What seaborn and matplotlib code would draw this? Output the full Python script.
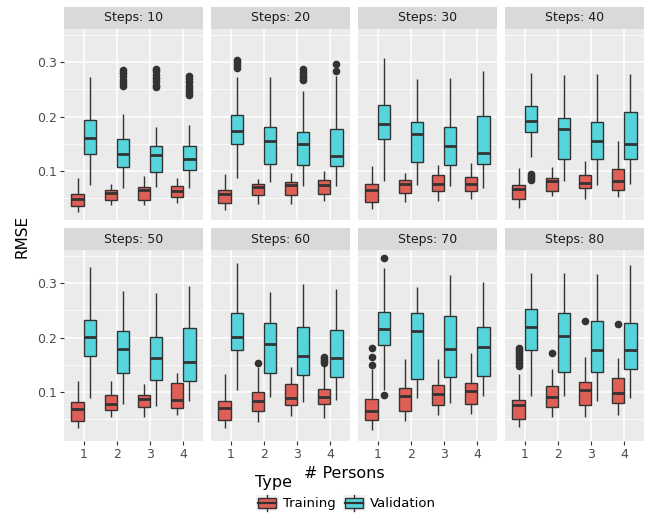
import pandas as pd
import seaborn as sns
import matplotlib.pyplot as plt
from matplotlib.lines import Line2D
from matplotlib.patches import Rectangle, Patch
from matplotlib.legend_handler import HandlerBase

STEPS = [10, 20, 30, 40, 50, 60, 70, 80]
PERSONS = ["1", "2", "3", "4"]
TYPES = ["Training", "Validation"]
COLORS = {"Training": "#DF5F57", "Validation": "#55D5DB"}

# Box statistics: one row per facet (Steps), one value per # Persons
train_lo = [[0.024, 0.037, 0.037, 0.0415], [0.028, 0.040, 0.0385, 0.0446],
            [0.0305, 0.0434, 0.044, 0.049], [0.032, 0.054, 0.049, 0.0526],
            [0.034, 0.055, 0.055, 0.058], [0.034, 0.045, 0.0563, 0.0526],
            [0.031, 0.0465, 0.0575, 0.0588], [0.0366, 0.0538, 0.0538, 0.058]]
train_q1 = [[0.035, 0.047, 0.047, 0.0515], [0.0415, 0.0557, 0.0557, 0.057],
            [0.0428, 0.060, 0.063, 0.0625], [0.0477, 0.063, 0.068, 0.066],
            [0.047, 0.0674, 0.0717, 0.070], [0.048, 0.066, 0.0766, 0.0772],
            [0.0477, 0.065, 0.0754, 0.0785], [0.0508, 0.073, 0.0766, 0.079]]
train_med = [[0.049, 0.060, 0.0655, 0.0625], [0.057, 0.071, 0.074, 0.075],
             [0.066, 0.076, 0.076, 0.076], [0.0674, 0.081, 0.078, 0.082],
             [0.0686, 0.078, 0.0865, 0.085], [0.071, 0.0834, 0.0895, 0.0908],
             [0.066, 0.092, 0.097, 0.101], [0.076, 0.0908, 0.1037, 0.099]]
train_q3 = [[0.0575, 0.065, 0.070, 0.072], [0.065, 0.0766, 0.080, 0.084],
            [0.0766, 0.0828, 0.0932, 0.0883], [0.074, 0.087, 0.093, 0.103],
            [0.082, 0.095, 0.095, 0.1166], [0.0834, 0.0994, 0.1154, 0.106],
            [0.087, 0.1074, 0.1135, 0.1166], [0.0846, 0.111, 0.1185, 0.1265]]
train_hi = [[0.088, 0.077, 0.091, 0.088], [0.0945, 0.086, 0.097, 0.1006],
            [0.109, 0.0957, 0.1117, 0.114], [0.105, 0.108, 0.118, 0.156],
            [0.1197, 0.1197, 0.1154, 0.135], [0.1326, 0.146, 0.1455, 0.147],
            [0.142, 0.161, 0.160, 0.172], [0.134, 0.1425, 0.1646, 0.1628]]
train_out = [[[], [], [], []], [[], [], [], []], [[], [], [], []], [[], [], [], []],
             [[], [], [], []],
             [[], [0.1535], [], [0.153, 0.157, 0.161, 0.165]],
             [[0.150, 0.164, 0.181], [], [], []],
             [[0.148, 0.153, 0.158, 0.163, 0.168, 0.173, 0.178, 0.181], [0.172], [0.231], [0.2243]]]

val_lo = [[0.075, 0.068, 0.070, 0.069], [0.0875, 0.0797, 0.0723, 0.0723],
          [0.081, 0.0748, 0.073, 0.069], [0.1265, 0.0815, 0.074, 0.077],
          [0.0895, 0.0772, 0.0735, 0.0834], [0.103, 0.0908, 0.0815, 0.0852],
          [0.103, 0.089, 0.080, 0.092], [0.0926, 0.0932, 0.084, 0.0883]]
val_q1 = [[0.131, 0.107, 0.098, 0.101], [0.149, 0.113, 0.1117, 0.1086],
          [0.158, 0.116, 0.111, 0.1135], [0.1714, 0.1215, 0.123, 0.1215],
          [0.1658, 0.1357, 0.1215, 0.121], [0.178, 0.135, 0.1308, 0.128],
          [0.1868, 0.1246, 0.127, 0.130], [0.178, 0.137, 0.1375, 0.142]]
val_med = [[0.160, 0.132, 0.129, 0.123], [0.173, 0.155, 0.149, 0.127],
           [0.186, 0.1677, 0.1455, 0.1332], [0.1923, 0.178, 0.156, 0.150],
           [0.202, 0.1788, 0.1634, 0.156], [0.201, 0.1874, 0.1658, 0.1634],
           [0.2163, 0.2126, 0.179, 0.182], [0.2194, 0.2028, 0.178, 0.178]]
val_q3 = [[0.194, 0.159, 0.146, 0.1455], [0.203, 0.1806, 0.1726, 0.177],
          [0.221, 0.1898, 0.1818, 0.2003], [0.2188, 0.198, 0.1905, 0.209],
          [0.2323, 0.2126, 0.2015, 0.217], [0.2446, 0.2268, 0.2188, 0.2138],
          [0.247, 0.2458, 0.239, 0.2188], [0.2532, 0.2446, 0.231, 0.2274]]
val_hi = [[0.272, 0.205, 0.181, 0.184], [0.2735, 0.2735, 0.2465, 0.2754],
          [0.308, 0.2686, 0.271, 0.2846], [0.2797, 0.276, 0.278, 0.278],
          [0.3295, 0.2858, 0.2815, 0.295], [0.3375, 0.2846, 0.298, 0.289],
          [0.3277, 0.2926, 0.3154, 0.302], [0.3185, 0.3185, 0.3166, 0.3338]]
val_out = [[[], [0.256, 0.262, 0.268, 0.274, 0.280, 0.286],
            [0.254, 0.259, 0.265, 0.271, 0.277, 0.283, 0.287],
            [0.239, 0.245, 0.251, 0.257, 0.263, 0.269, 0.274]],
           [[0.290, 0.295, 0.300, 0.304], [], [0.267, 0.272, 0.277, 0.282, 0.287], [0.2846, 0.296]],
           [[], [], [], []],
           [[0.083, 0.087, 0.091, 0.094], [], [], []],
           [[], [], [], []], [[], [], [], []],
           [[0.095, 0.346], [], [], []],
           [[], [], [], []]]


def box_values(lo, q1, med, q3, hi, out):
    """Sample that reproduces the read five-number summary in a boxplot."""
    return [lo] + [q1] * 10 + [med] * 10 + [q3] * 10 + [hi] + list(out)


rows = []
stats = {"Training": (train_lo, train_q1, train_med, train_q3, train_hi, train_out),
         "Validation": (val_lo, val_q1, val_med, val_q3, val_hi, val_out)}
for kind, (lo, q1, med, q3, hi, out) in stats.items():
    for i, st in enumerate(STEPS):
        for j, p in enumerate(PERSONS):
            for v in box_values(lo[i][j], q1[i][j], med[i][j], q3[i][j], hi[i][j], out[i][j]):
                rows.append({"steps": st, "persons": p, "type": kind, "rmse": v})
data = pd.DataFrame(rows)


class BoxKey(HandlerBase):
    """ggplot-like legend key: small boxplot on a grey square."""

    def create_artists(self, legend, orig_handle, xdescent, ydescent, width, height, fontsize, trans):
        x0, y0 = -xdescent, -ydescent
        bg = Rectangle((x0, y0), width, height, facecolor="#F2F2F2", edgecolor="none", transform=trans)
        wl = Line2D([x0 + width / 2] * 2, [y0, y0 + height], color="#333333", lw=1.0, transform=trans)
        box = Rectangle((x0 + width * 0.1, y0 + height * 0.22), width * 0.8, height * 0.56,
                        facecolor=orig_handle.get_facecolor(), edgecolor="#333333", lw=1.0, transform=trans)
        md = Line2D([x0 + width * 0.1, x0 + width * 0.9], [y0 + height / 2] * 2, color="#333333",
                    lw=1.6, transform=trans)
        return [bg, wl, box, md]


W, H = 652, 514
col_left = [64, 211, 358, 505]
row_top = [29, 250]
pw, ph, strip_h = 139, 191, 22

fig = plt.figure(figsize=(W / 100, H / 100), dpi=100)
plt.rcParams["font.family"] = ["DejaVu Sans"]

for i, st in enumerate(STEPS):
    r, c = divmod(i, 4)
    ax = fig.add_axes([col_left[c] / W, 1 - (row_top[r] + ph) / H, pw / W, ph / H])
    sns.boxplot(
        data=data[data["steps"] == st],
        x="persons",
        y="rmse",
        hue="type",
        order=PERSONS,
        hue_order=TYPES,
        palette=COLORS,
        saturation=1,
        width=0.75,
        gap=0,
        linecolor="#333333",
        linewidth=1.0,
        fliersize=4.5,
        flierprops={"marker": "o", "markerfacecolor": "#333333", "markeredgecolor": "#333333"},
        medianprops={"linewidth": 2.0},
        showcaps=False,
        legend=False,
        ax=ax,
    )
    ax.set_facecolor("#EBEBEB")
    for s in ax.spines.values():
        s.set_visible(False)
    ax.set_xlim(-0.6, 3.6)
    ax.set_ylim(0.010, 0.361)
    ax.set_yticks([0.1, 0.2, 0.3])
    ax.set_yticklabels(["0.1", "0.2", "0.3"])
    ax.set_yticks([0.05, 0.15, 0.25, 0.35], minor=True)
    ax.set_xticks(range(4))
    ax.set_xticklabels(PERSONS)
    ax.grid(which="major", color="white", lw=1.1)
    ax.grid(which="minor", axis="y", color="white", lw=0.55)
    ax.set_axisbelow(True)
    ax.tick_params(which="minor", length=0)
    ax.tick_params(which="major", length=3, width=0.8, color="#333333", labelsize=9,
                   labelcolor="#4D4D4D", pad=2)
    if c != 0:
        ax.tick_params(axis="y", labelleft=False, length=0)
    if r == 0:
        ax.tick_params(axis="x", labelbottom=False, length=0)
    ax.set_xlabel("")
    ax.set_ylabel("")
    # facet strip
    ax.add_patch(Rectangle((0, 1), 1, strip_h / ph, transform=ax.transAxes, facecolor="#D9D9D9",
                           edgecolor="none", clip_on=False))
    ax.text(0.5, 1 + strip_h / ph / 2, f"Steps: {st}", transform=ax.transAxes, ha="center",
            va="center", fontsize=9, color="#1A1A1A")

fig.text(22 / W, 1 - 236 / H, "RMSE", rotation=90, ha="center", va="center", fontsize=11)
fig.text(344 / W, 1 - 474 / H, "# Persons", ha="center", va="center", fontsize=11.5)
fig.text(255 / W, 1 - 482 / H, "Type", ha="left", va="center", fontsize=11.5)

handles = [Patch(facecolor=COLORS[t]) for t in TYPES]
fig.legend(
    handles,
    TYPES,
    handler_map={Patch: BoxKey()},
    loc="center",
    bbox_to_anchor=(346 / W, 1 - 503 / H),
    ncol=2,
    frameon=False,
    fontsize=9.5,
    handlelength=1.75,
    handleheight=1.6,
    handletextpad=0.35,
    columnspacing=0.5,
    borderpad=0,
)

plt.savefig("out.png", dpi=100)
